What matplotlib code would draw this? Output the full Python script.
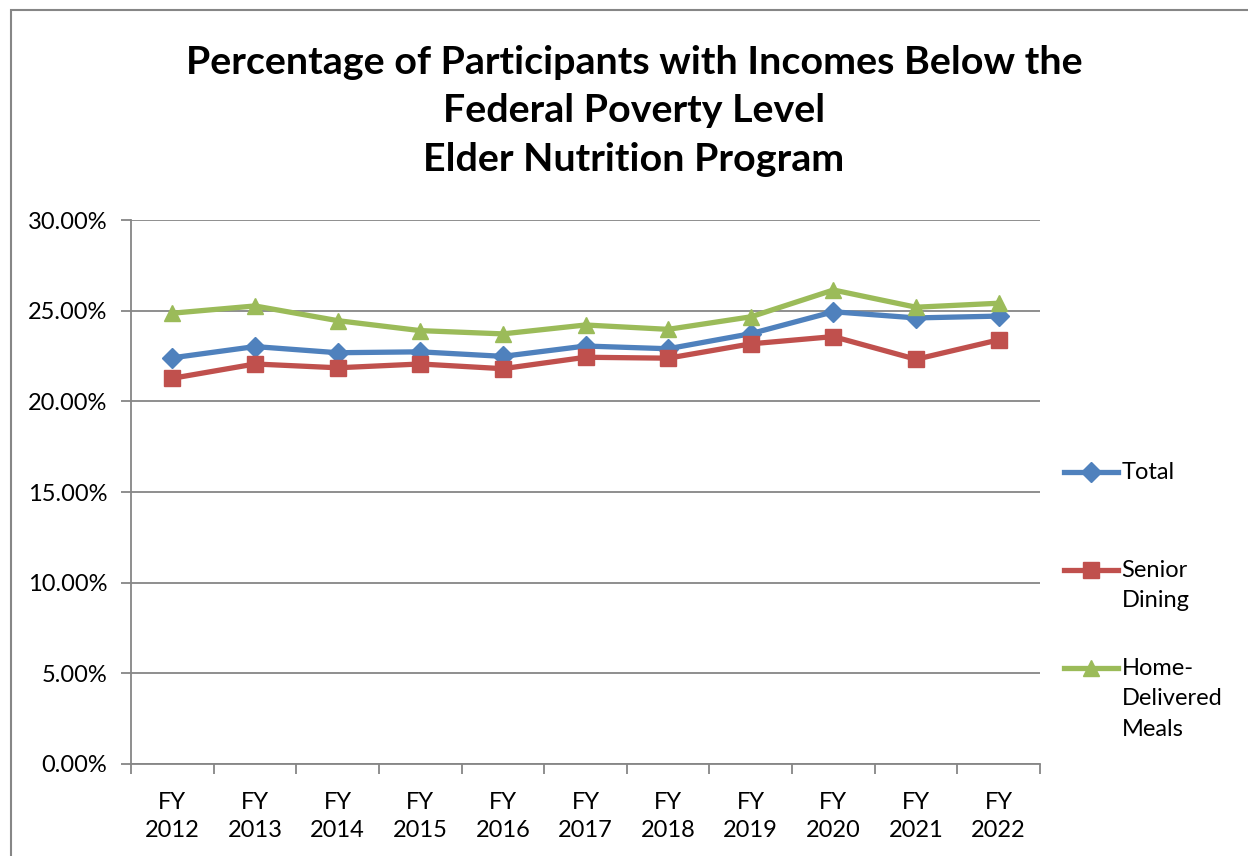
import numpy as np
import matplotlib.pyplot as plt
from matplotlib.patches import Rectangle
from matplotlib.ticker import FuncFormatter, FixedLocator

plt.rcParams['font.family'] = ['Lato', 'DejaVu Sans']

years = ['FY\n2012', 'FY\n2013', 'FY\n2014', 'FY\n2015', 'FY\n2016', 'FY\n2017',
         'FY\n2018', 'FY\n2019', 'FY\n2020', 'FY\n2021', 'FY\n2022']
total = [0.2240, 0.2302, 0.2268, 0.2273, 0.2248, 0.2305,
         0.2290, 0.2373, 0.2494, 0.2460, 0.2470]
senior_dining = [0.2127, 0.2206, 0.2185, 0.2206, 0.2180, 0.2243,
                 0.2238, 0.2317, 0.2357, 0.2232, 0.2339]
home_delivered = [0.2486, 0.2526, 0.2445, 0.2390, 0.2372, 0.2421,
                  0.2397, 0.2466, 0.2614, 0.2519, 0.2541]

series = [
    ('Total', total, '#4F81BD', 'D', 10),
    ('Senior\nDining', senior_dining, '#C0504D', 's', 11),
    ('Home-\nDelivered\nMeals', home_delivered, '#9BBB59', '^', 12),
]

W, H = 1248, 856
fig = plt.figure(figsize=(W / 100, H / 100), dpi=100)
ax = fig.add_axes([131 / W, 1 - 764 / H, (1040 - 131) / W, (764 - 220) / H])

x = np.arange(len(years))
handles = []
for label, vals, color, marker, ms in series:
    h, = ax.plot(x, vals, color=color, lw=3.8, marker=marker, ms=ms,
                 markeredgecolor=color, label=label, zorder=3)
    handles.append(h)

grid_c = '#868686'
ax.set_ylim(0, 0.30)
ax.set_yticks(np.arange(0, 0.301, 0.05))
ax.yaxis.set_major_formatter(FuncFormatter(lambda v, p: f'{v * 100:.2f}%'))
ax.grid(axis='y', color=grid_c, lw=1.3)
ax.set_axisbelow(True)

ax.set_xlim(-0.5, len(years) - 0.5)
ax.set_xticks(x)
ax.set_xticklabels(years, linespacing=1.45)
ax.xaxis.set_minor_locator(FixedLocator(np.arange(-0.5, len(years), 1.0)))
ax.tick_params(axis='x', which='major', length=0, pad=20, labelsize=17)
ax.tick_params(axis='x', which='minor', length=7, color=grid_c, width=1.3)
ax.tick_params(axis='y', length=7, color=grid_c, width=1.3, pad=10, labelsize=17)

for s in ['top', 'right']:
    ax.spines[s].set_visible(False)
for s in ['left', 'bottom']:
    ax.spines[s].set_color(grid_c)
    ax.spines[s].set_linewidth(1.3)

# legend, one entry per slot, key lined up with the first text line
first_line = [470, 568, 666]
for h, yc in zip(handles, first_line):
    leg = fig.legend(handles=[h], loc='upper left',
                     bbox_to_anchor=(1052 / W, 1 - (yc - 20) / H),
                     frameon=False, fontsize=17, handlelength=2.3,
                     handleheight=1.3, handletextpad=0.15, borderpad=0)
    for t in leg.get_texts():
        t.set_linespacing(1.56)
    for col in leg._legend_handle_box.get_children():
        for row in col.get_children():
            row.align = 'top'

fig.text(634 / W, 1 - 111 / H,
         'Percentage of Participants with Incomes Below the\nFederal Poverty Level\nElder Nutrition Program',
         ha='center', va='center', fontsize=28.4, fontweight='bold', linespacing=1.48)

# outer chart border (cropped on right/bottom)
fig.add_artist(Rectangle((11 / W, -0.2), 1.5, 1.2 - 10 / H,
                         transform=fig.transFigure, fill=False,
                         edgecolor=grid_c, lw=1.5))

fig.savefig('out.png', dpi=100)
